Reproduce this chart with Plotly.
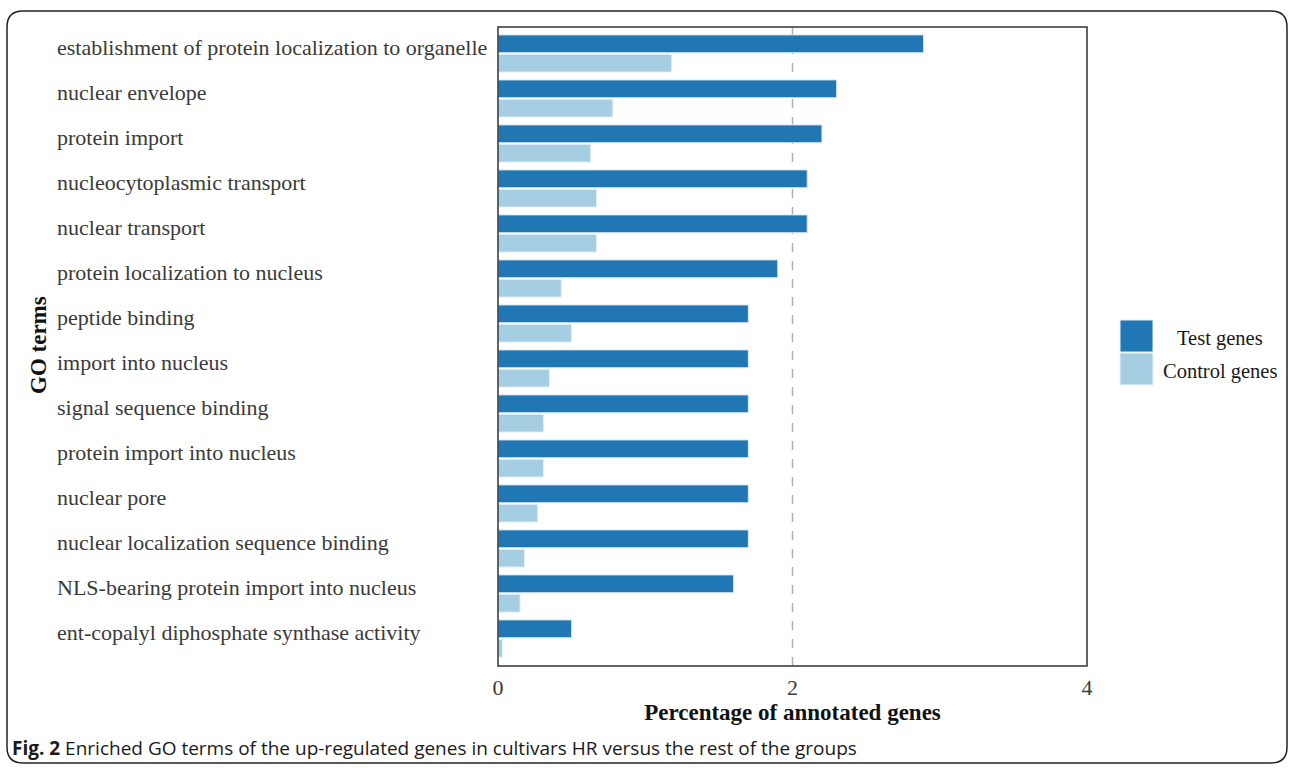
import plotly.graph_objects as go

categories = [
    "establishment of protein localization to organelle",
    "nuclear envelope",
    "protein import",
    "nucleocytoplasmic transport",
    "nuclear transport",
    "protein localization to nucleus",
    "peptide binding",
    "import into nucleus",
    "signal sequence binding",
    "protein import into nucleus",
    "nuclear pore",
    "nuclear localization sequence binding",
    "NLS-bearing protein import into nucleus",
    "ent-copalyl diphosphate synthase activity",
]
test_values = [2.89, 2.30, 2.20, 2.10, 2.10, 1.90, 1.70, 1.70, 1.70, 1.70, 1.70, 1.70, 1.60, 0.50]
control_values = [1.18, 0.78, 0.63, 0.67, 0.67, 0.43, 0.50, 0.35, 0.31, 0.31, 0.27, 0.18, 0.15, 0.03]
x_ticks = [0, 2, 4]
series_names = ["Test genes", "Control genes"]

TEST_C = "#2077b4"
CTRL_C = "#a6cee3"
SERIF = "Liberation Serif"

W, H = 1290, 768
ML, MR, MT, MB = 498, 203, 31, 107
PW, PH = W - ML - MR, H - MT - MB


def px_x(px):
    return (px - ML) / PW


def px_y(py):
    return (H - MB - py) / PH


fig = go.Figure()
fig.add_trace(go.Bar(
    y=categories, x=test_values, orientation="h", name=series_names[0],
    marker=dict(color=TEST_C, line=dict(color="#d6e8f5", width=1)),
    showlegend=False,
))
fig.add_trace(go.Bar(
    y=categories, x=control_values, orientation="h", name=series_names[1],
    marker=dict(color=CTRL_C, line=dict(color="#e6f2f9", width=1)),
    showlegend=False,
))

annotations = []
for c in categories:
    annotations.append(dict(
        x=px_x(55), xref="paper", y=c, yref="y", text=c, showarrow=False,
        xanchor="left", yanchor="middle", yshift=6,
        font=dict(family=SERIF, size=22, color="#3a3a3a"),
    ))
annotations.append(dict(
    x=px_x(38), xref="paper", y=px_y(345), yref="paper", text="<b>GO terms</b>",
    textangle=-90, showarrow=False, xanchor="center", yanchor="middle",
    font=dict(family=SERIF, size=23, color="#111111"),
))
# legend
for i, (name, col) in enumerate(zip(series_names, [TEST_C, CTRL_C])):
    y0 = 320 + i * 33
    annotations.append(dict(
        x=px_x(1220), xref="paper", y=px_y(y0 + 18), yref="paper", text=name,
        showarrow=False, xanchor="center", yanchor="middle",
        font=dict(family=SERIF, size=20.5, color="#1a1a1a"),
    ))
annotations.append(dict(
    x=px_x(10), xref="paper", y=px_y(748), yref="paper",
    text="<b>Fig. 2</b> Enriched GO terms of the up-regulated genes in cultivars HR versus the rest of the groups",
    showarrow=False, xanchor="left", yanchor="middle",
    font=dict(family="Open Sans", size=19, color="#1a1a1a"),
))

shapes = []
for i, col in enumerate([TEST_C, CTRL_C]):
    y0 = 320 + i * 33
    shapes.append(dict(
        type="rect", xref="paper", yref="paper",
        x0=px_x(1120), x1=px_x(1153), y0=px_y(y0), y1=px_y(y0 + 32),
        fillcolor=col, line=dict(color="#e8f2f9", width=1),
    ))
# dashed reference line at 2
shapes.append(dict(
    type="line", xref="x", yref="paper", x0=2, x1=2, y0=px_y(666), y1=px_y(27),
    line=dict(color="#b0b0b0", width=1.5, dash="dash"), layer="below",
))
# plot frame
shapes.append(dict(
    type="rect", xref="paper", yref="paper",
    x0=0, x1=1, y0=px_y(666), y1=px_y(27),
    line=dict(color="#333333", width=1.5), fillcolor="rgba(0,0,0,0)",
))
# outer rounded border
x0b, x1b, y0b, y1b, r = px_x(7), px_x(1287), px_y(763), px_y(11), 16
rx, ry = r / PW, r / PH
path = (
    f"M {x0b + rx},{y1b} L {x1b - rx},{y1b} Q {x1b},{y1b} {x1b},{y1b - ry} "
    f"L {x1b},{y0b + ry} Q {x1b},{y0b} {x1b - rx},{y0b} "
    f"L {x0b + rx},{y0b} Q {x0b},{y0b} {x0b},{y0b + ry} "
    f"L {x0b},{y1b - ry} Q {x0b},{y1b} {x0b + rx},{y1b} Z"
)
shapes.append(dict(type="path", xref="paper", yref="paper", path=path,
                   line=dict(color="#222222", width=1.5)))

fig.update_layout(
    width=W, height=H,
    margin=dict(l=ML, r=MR, t=MT, b=MB, pad=0),
    paper_bgcolor="white", plot_bgcolor="white",
    barmode="group", bargap=0.14, bargroupgap=0.08,
    annotations=annotations, shapes=shapes,
    xaxis=dict(
        range=[0, 4], tickvals=x_ticks, ticktext=[str(t) for t in x_ticks],
        showgrid=False, zeroline=False, showline=False,
        ticks="outside", ticklen=7, tickcolor="rgba(0,0,0,0)",
        tickfont=dict(family=SERIF, size=22, color="#3a3a3a"),
        title=dict(text="<b>Percentage of annotated genes</b>", standoff=0,
                   font=dict(family=SERIF, size=23, color="#111111")),
    ),
    yaxis=dict(
        autorange="reversed", showticklabels=False, showgrid=False,
        zeroline=False, showline=False, ticks="",
    ),
)

fig.write_html("out.html")
